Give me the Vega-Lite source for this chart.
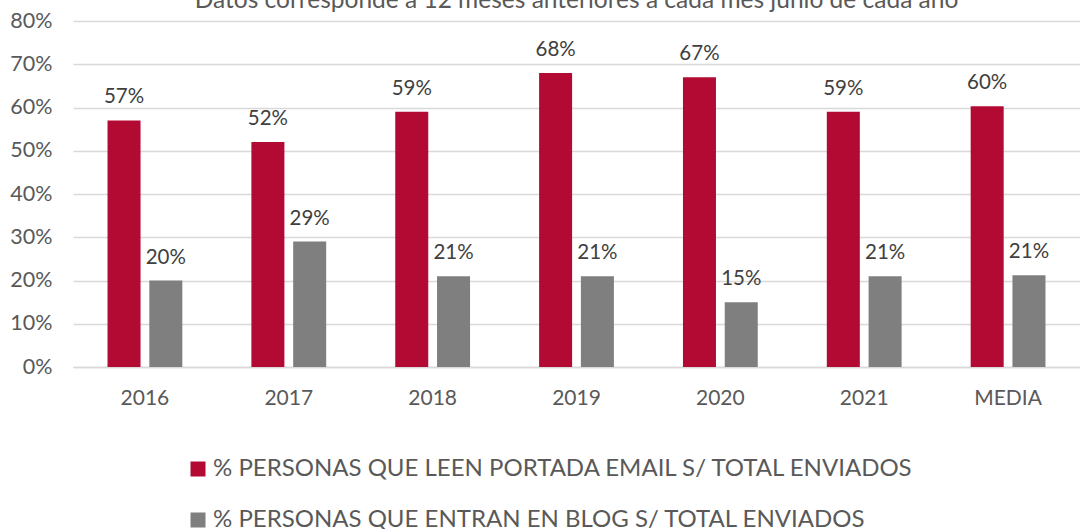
{
  "$schema": "https://vega.github.io/schema/vega-lite/v6.json",
  "autosize": {"type": "none"},
  "width": 1007,
  "height": 346,
  "padding": {"left": 73, "top": 21, "right": 0, "bottom": 162},
  "background": "white",
  "title": {
    "text": "Datos corresponde a 12 meses anteriores a cada mes junio de cada año",
    "font": "Lato",
    "fontSize": 24.5,
    "fontWeight": "normal",
    "color": "#595959",
    "anchor": "middle",
    "offset": 4,
    "dy": 7
  },
  "data": {
    "values": [
      {"cat": "2016", "serie": "% PERSONAS QUE LEEN PORTADA EMAIL S/ TOTAL ENVIADOS", "v": 0.57},
      {"cat": "2016", "serie": "% PERSONAS QUE ENTRAN EN BLOG S/ TOTAL ENVIADOS", "v": 0.20},
      {"cat": "2017", "serie": "% PERSONAS QUE LEEN PORTADA EMAIL S/ TOTAL ENVIADOS", "v": 0.52},
      {"cat": "2017", "serie": "% PERSONAS QUE ENTRAN EN BLOG S/ TOTAL ENVIADOS", "v": 0.29},
      {"cat": "2018", "serie": "% PERSONAS QUE LEEN PORTADA EMAIL S/ TOTAL ENVIADOS", "v": 0.59},
      {"cat": "2018", "serie": "% PERSONAS QUE ENTRAN EN BLOG S/ TOTAL ENVIADOS", "v": 0.21},
      {"cat": "2019", "serie": "% PERSONAS QUE LEEN PORTADA EMAIL S/ TOTAL ENVIADOS", "v": 0.68},
      {"cat": "2019", "serie": "% PERSONAS QUE ENTRAN EN BLOG S/ TOTAL ENVIADOS", "v": 0.21},
      {"cat": "2020", "serie": "% PERSONAS QUE LEEN PORTADA EMAIL S/ TOTAL ENVIADOS", "v": 0.67},
      {"cat": "2020", "serie": "% PERSONAS QUE ENTRAN EN BLOG S/ TOTAL ENVIADOS", "v": 0.15},
      {"cat": "2021", "serie": "% PERSONAS QUE LEEN PORTADA EMAIL S/ TOTAL ENVIADOS", "v": 0.59},
      {"cat": "2021", "serie": "% PERSONAS QUE ENTRAN EN BLOG S/ TOTAL ENVIADOS", "v": 0.21},
      {"cat": "MEDIA", "serie": "% PERSONAS QUE LEEN PORTADA EMAIL S/ TOTAL ENVIADOS", "v": 0.603},
      {"cat": "MEDIA", "serie": "% PERSONAS QUE ENTRAN EN BLOG S/ TOTAL ENVIADOS", "v": 0.212}
    ]
  },
  "encoding": {
    "x": {
      "field": "cat", "type": "nominal", "sort": null, "title": null,
      "scale": {"paddingInner": 0.48, "paddingOuter": 0.24},
      "axis": {
        "labelAngle": 0, "labelFont": "Lato", "labelFontSize": 21, "labelColor": "#595959",
        "labelPadding": 20, "ticks": false, "domainColor": "#D9D9D9", "domainWidth": 1.5
      }
    },
    "xOffset": {
      "field": "serie", "type": "nominal", "sort": null,
      "scale": {"paddingInner": 0.21, "paddingOuter": 0}
    },
    "y": {
      "field": "v", "type": "quantitative", "title": null,
      "scale": {"domain": [0, 0.8], "nice": false},
      "axis": {
        "format": ".0%", "values": [0, 0.1, 0.2, 0.3, 0.4, 0.5, 0.6, 0.7, 0.8],
        "labelOverlap": false,
        "labelFont": "Lato", "labelFontSize": 21.5, "labelColor": "#595959",
        "labelPadding": 21, "ticks": false, "domain": false,
        "gridColor": "#D9D9D9", "gridWidth": 1.5
      }
    }
  },
  "layer": [
    {
      "mark": {"type": "bar"},
      "encoding": {
        "color": {
          "field": "serie", "type": "nominal", "sort": null,
          "scale": {"range": ["#B30A33", "#7F7F7F"]},
          "legend": {
            "title": null, "orient": "none", "legendX": 113, "legendY": 436,
            "direction": "vertical", "symbolType": "square", "symbolSize": 225,
            "symbolStrokeWidth": 0, "labelFont": "Lato", "labelFontSize": 24,
            "labelColor": "#595959", "labelLimit": 1000, "rowPadding": 27, "labelOffset": 3
          }
        }
      }
    },
    {
      "mark": {"type": "text", "font": "Lato", "fontSize": 20.5, "color": "#404040", "baseline": "alphabetic", "dy": -17},
      "encoding": {
        "text": {"field": "v", "type": "quantitative", "format": ".0%"}
      }
    }
  ],
  "config": {"view": {"stroke": null}}
}
